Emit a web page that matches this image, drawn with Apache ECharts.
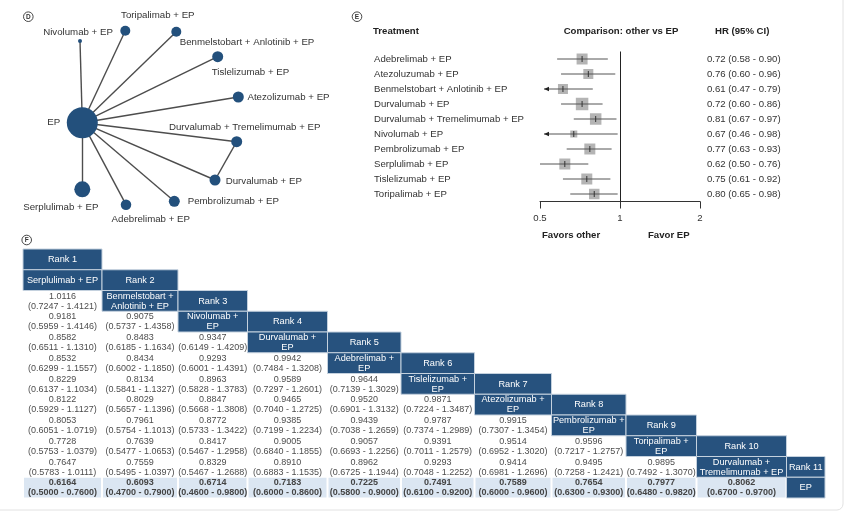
<!DOCTYPE html>
<html>
<head>
<meta charset="utf-8">
<script src="https://cdn.jsdelivr.net/npm/echarts@6/dist/echarts.min.js"></script>
<style>
html,body{margin:0;padding:0;background:#fff;}
#chart{width:845px;height:513px;}
</style>
</head>
<body>
<div id="chart"></div>
<script>
// ---------------- DATA ----------------
// (D) network: treatments and direct comparisons
const netNodes = ['EP', 'Nivolumab + EP', 'Toripalimab + EP', 'Benmelstobart + Anlotinib + EP', 'Tislelizumab + EP',
  'Atezolizumab + EP', 'Durvalumab + Tremelimumab + EP', 'Durvalumab + EP', 'Pembrolizumab + EP', 'Adebrelimab + EP', 'Serplulimab + EP'];
const netEdges = [
  ['EP', 'Nivolumab + EP'], ['EP', 'Toripalimab + EP'], ['EP', 'Benmelstobart + Anlotinib + EP'], ['EP', 'Tislelizumab + EP'],
  ['EP', 'Atezolizumab + EP'], ['EP', 'Durvalumab + Tremelimumab + EP'], ['EP', 'Durvalumab + EP'], ['EP', 'Pembrolizumab + EP'],
  ['EP', 'Adebrelimab + EP'], ['EP', 'Serplulimab + EP'], ['Durvalumab + EP', 'Durvalumab + Tremelimumab + EP']
];

// (E) forest plot: other vs EP
const forestTreatments = ['Adebrelimab + EP', 'Atezoluzumab + EP', 'Benmelstobart + Anlotinib + EP', 'Durvalumab + EP',
  'Durvalumab + Tremelimumab + EP', 'Nivolumab + EP', 'Pembrolizumab + EP', 'Serplulimab + EP', 'Tislelizumab + EP', 'Toripalimab + EP'];
const forestHR = [0.72, 0.76, 0.61, 0.72, 0.81, 0.67, 0.77, 0.62, 0.75, 0.80];
const forestLo = [0.58, 0.60, 0.47, 0.60, 0.67, 0.46, 0.63, 0.50, 0.61, 0.65];
const forestHi = [0.90, 0.96, 0.79, 0.86, 0.97, 0.98, 0.93, 0.76, 0.92, 0.98];
const forestWeight = [11, 10, 10, 12.5, 11.5, 7, 11, 11, 11, 10.5];
const forestTicks = [0.5, 1, 2];

// (F) league table (ranked)
const rankLabels = ['Rank 1', 'Rank 2', 'Rank 3', 'Rank 4', 'Rank 5', 'Rank 6', 'Rank 7', 'Rank 8', 'Rank 9', 'Rank 10', 'Rank 11'];
const leagueNames = ['Serplulimab + EP', 'Benmelstobart +\nAnlotinib + EP', 'Nivolumab +\nEP', 'Durvalumab +\nEP', 'Adebrelimab +\nEP',
  'Tislelizumab +\nEP', 'Atezolizumab +\nEP', 'Pembrolizumab +\nEP', 'Toripalimab +\nEP', 'Durvalumab +\nTremelimumab + EP', 'EP'];
// row k = comparisons of ranked treatments 0..k-1 against ranked treatment k (k = 1..10)
const leagueHR = [
  [1.0116],
  [0.9181, 0.9075],
  [0.8582, 0.8483, 0.9347],
  [0.8532, 0.8434, 0.9293, 0.9942],
  [0.8229, 0.8134, 0.8963, 0.9589, 0.9644],
  [0.8122, 0.8029, 0.8847, 0.9465, 0.9520, 0.9871],
  [0.8053, 0.7961, 0.8772, 0.9385, 0.9439, 0.9787, 0.9915],
  [0.7728, 0.7639, 0.8417, 0.9005, 0.9057, 0.9391, 0.9514, 0.9596],
  [0.7647, 0.7559, 0.8329, 0.8910, 0.8962, 0.9293, 0.9414, 0.9495, 0.9895],
  [0.6164, 0.6093, 0.6714, 0.7183, 0.7225, 0.7491, 0.7589, 0.7654, 0.7977, 0.8062]
];
const leagueLo = [
  [0.7247],
  [0.5959, 0.5737],
  [0.6511, 0.6185, 0.6149],
  [0.6299, 0.6002, 0.6001, 0.7484],
  [0.6137, 0.5841, 0.5828, 0.7297, 0.7139],
  [0.5929, 0.5657, 0.5668, 0.7040, 0.6901, 0.7224],
  [0.6051, 0.5754, 0.5733, 0.7199, 0.7038, 0.7374, 0.7307],
  [0.5753, 0.5477, 0.5467, 0.6840, 0.6693, 0.7011, 0.6952, 0.7217],
  [0.5783, 0.5495, 0.5467, 0.6883, 0.6725, 0.7048, 0.6981, 0.7258, 0.7492],
  [0.5000, 0.4700, 0.4600, 0.6000, 0.5800, 0.6100, 0.6000, 0.6300, 0.6480, 0.6700]
];
const leagueHi = [
  [1.4121],
  [1.4146, 1.4358],
  [1.1310, 1.1634, 1.4209],
  [1.1557, 1.1850, 1.4391, 1.3208],
  [1.1034, 1.1327, 1.3783, 1.2601, 1.3029],
  [1.1127, 1.1396, 1.3808, 1.2725, 1.3132, 1.3487],
  [1.0719, 1.1013, 1.3422, 1.2234, 1.2659, 1.2989, 1.3454],
  [1.0379, 1.0653, 1.2958, 1.1855, 1.2256, 1.2579, 1.3020, 1.2757],
  [1.0111, 1.0397, 1.2688, 1.1535, 1.1944, 1.2252, 1.2696, 1.2421, 1.3070],
  [0.7600, 0.7900, 0.9800, 0.8600, 0.9000, 0.9200, 0.9600, 0.9300, 0.9820, 0.9700]
];

// ---------------- LAYOUT (not data) ----------------
// network node placement (plot units of the hidden grid) and label centres
const netLayout = {
  'EP': {x: 82.3, y: 122.7, s: 31, lx: 53.7, ly: 122.7},
  'Nivolumab + EP': {x: 80, y: 41, s: 4, lx: 78, ly: 32.3},
  'Toripalimab + EP': {x: 125.3, y: 30.7, s: 10, lx: 157.8, ly: 15.7},
  'Benmelstobart + Anlotinib + EP': {x: 176.3, y: 31.7, s: 10, lx: 247, ly: 42.7},
  'Tislelizumab + EP': {x: 217.7, y: 56.7, s: 11, lx: 250.5, ly: 72.3},
  'Atezolizumab + EP': {x: 238.3, y: 97, s: 11, lx: 288.5, ly: 97},
  'Durvalumab + Tremelimumab + EP': {x: 236.7, y: 141.7, s: 11, lx: 244.7, ly: 127.3},
  'Durvalumab + EP': {x: 215, y: 180, s: 11, lx: 263.8, ly: 181},
  'Pembrolizumab + EP': {x: 174.3, y: 201.3, s: 11, lx: 233.3, ly: 201.3},
  'Adebrelimab + EP': {x: 126, y: 204.7, s: 10.5, lx: 150.8, ly: 219},
  'Serplulimab + EP': {x: 82.3, y: 189.3, s: 16, lx: 60.8, ly: 207.3}
};
const colWidths = [79, 76, 69.5, 80, 73.5, 73.5, 77, 74.5, 70.5, 90, 38.5];
const colEdges = [0];
colWidths.forEach(w => colEdges.push(colEdges[colEdges.length - 1] + w));
const tableWidth = colEdges[colEdges.length - 1];

const FONT = '"Liberation Sans", Arial, Helvetica, sans-serif';
const BLUE = '#27527e';

// ---------------- BUILD ----------------
const graphData = netNodes.map(n => {
  const L = netLayout[n];
  return {
    name: n, value: [L.x, L.y], symbolSize: L.s,
    label: {offset: [L.lx - L.x, L.ly - L.y]}
  };
});
const graphLinks = netEdges.map(e => ({source: e[0], target: e[1]}));

const fmt4 = v => v.toFixed(4);
const cells = [];
for (let j = 0; j < rankLabels.length; j++) {
  cells.push({col: j, row: j, kind: 'head', text: rankLabels[j]});
  cells.push({col: j, row: j + 1, kind: 'head', text: leagueNames[j]});
}
for (let k = 0; k < leagueHR.length; k++) {
  const isLast = k === leagueHR.length - 1;
  for (let j = 0; j < leagueHR[k].length; j++) {
    cells.push({
      col: j, row: k + 2, kind: isLast ? 'ref' : 'val',
      text: fmt4(leagueHR[k][j]) + '\n(' + fmt4(leagueLo[k][j]) + ' - ' + fmt4(leagueHi[k][j]) + ')'
    });
  }
}

function circled(letter, cx, cy) {
  return [
    {type: 'circle', shape: {cx: cx, cy: cy, r: 4.8}, style: {fill: 'none', stroke: '#333', lineWidth: 0.9}},
    {type: 'text', x: cx, y: cy + 0.3, style: {text: letter, fill: '#333', font: 'bold 6.5px ' + FONT, textAlign: 'center', textVerticalAlign: 'middle'}}
  ];
}
function txt(s, x, y, opts) {
  opts = opts || {};
  return {type: 'text', x: x, y: y, style: {
    text: s, fill: opts.fill || '#222', font: (opts.bold ? 'bold ' : '') + (opts.size || 9.6) + 'px ' + FONT,
    textAlign: opts.align || 'left', textVerticalAlign: 'middle'}};
}

const chart = echarts.init(document.getElementById('chart'), null, {renderer: 'canvas'});
chart.setOption({
  animation: false,
  backgroundColor: '#fff',
  grid: [
    {left: 0, top: 0, width: 360, height: 230},
    {left: 540, top: 51.5, width: 160, height: 150},
    {left: 23, top: 249, width: tableWidth, height: 12 * 20.75}
  ],
  xAxis: [
    {gridIndex: 0, type: 'value', min: 0, max: 360, show: false},
    {gridIndex: 1, type: 'log', logBase: 2, min: forestTicks[0], max: forestTicks[forestTicks.length - 1],
      axisLine: {show: true, lineStyle: {color: '#333', width: 1}},
      axisTick: {show: true, length: 7, lineStyle: {color: '#333'}},
      axisLabel: {color: '#333', fontSize: 9.6, fontFamily: FONT, margin: 12, formatter: v => String(+v.toFixed(2))},
      splitLine: {show: false}, minorTick: {show: false}},
    {gridIndex: 2, type: 'value', min: 0, max: tableWidth, show: false}
  ],
  yAxis: [
    {gridIndex: 0, type: 'value', min: 0, max: 230, inverse: true, show: false},
    {gridIndex: 1, type: 'category', data: forestTreatments, inverse: true,
      axisLine: {show: false}, axisTick: {show: false},
      axisLabel: {align: 'left', margin: 166, color: '#333', fontSize: 9.6, fontFamily: FONT}},
    {gridIndex: 1, type: 'category', position: 'right', inverse: true,
      data: forestHR.map((v, i) => v.toFixed(2) + ' (' + forestLo[i].toFixed(2) + ' - ' + forestHi[i].toFixed(2) + ')'),
      axisLine: {show: false}, axisTick: {show: false},
      axisLabel: {align: 'left', margin: 7, color: '#333', fontSize: 9.6, fontFamily: FONT}},
    {gridIndex: 2, type: 'value', min: 0, max: 12, inverse: true, show: false}
  ],
  graphic: {elements: [
    {type: 'rect', shape: {x: -6, y: -6, width: 849, height: 516, r: 6}, style: {fill: 'none', stroke: '#e2e2e2', lineWidth: 1}, silent: true},
    ...circled('D', 28.3, 16.7),
    ...circled('E', 357, 16.7),
    ...circled('F', 26.7, 240),
    txt('Treatment', 373, 31, {bold: true}),
    txt('Comparison: other vs EP', 621, 31, {bold: true, align: 'center'}),
    txt('HR (95% CI)', 715, 31, {bold: true}),
    txt('Favors other', 542, 235.5, {bold: true}),
    txt('Favor EP', 648, 235.5, {bold: true})
  ]},
  series: [
    {
      type: 'graph', coordinateSystem: 'cartesian2d', xAxisIndex: 0, yAxisIndex: 0,
      layout: 'none', roam: false, silent: true,
      data: graphData, links: graphLinks,
      itemStyle: {color: '#23507c'},
      lineStyle: {color: '#4d4d4d', width: 1.4, opacity: 1, curveness: 0},
      label: {show: true, position: 'inside', color: '#333', fontSize: 9.7, fontFamily: FONT},
      emphasis: {disabled: true}
    },
    {
      type: 'custom', xAxisIndex: 1, yAxisIndex: 1, silent: true,
      data: forestHR.map((v, i) => [v, i]),
      encode: {x: 0, y: 1},
      renderItem: function (params, api) {
        const i = params.dataIndex;
        const p = api.coord([forestHR[i], i]);
        const y = p[1], xc = p[0];
        const xMin = api.coord([forestTicks[0], i])[0];
        const clipped = forestLo[i] < forestTicks[0];
        const xLo = clipped ? xMin + 4 : api.coord([forestLo[i], i])[0];
        const xHi = api.coord([forestHi[i], i])[0];
        const s = forestWeight[i];
        const ch = [
          {type: 'rect', shape: {x: xc - s / 2, y: y - s / 2, width: s, height: s}, style: {fill: '#b4b4b4'}},
          {type: 'line', shape: {x1: xLo, y1: y, x2: xHi, y2: y}, style: {stroke: '#555', lineWidth: 1}},
          {type: 'line', shape: {x1: xc, y1: y - 3, x2: xc, y2: y + 3}, style: {stroke: '#333', lineWidth: 1}}
        ];
        if (clipped) {
          ch.push({type: 'polygon', shape: {points: [[xLo, y], [xLo + 5, y - 2.2], [xLo + 5, y + 2.2]]}, style: {fill: '#222'}});
        }
        return {type: 'group', children: ch};
      },
      markLine: {
        silent: true, symbol: 'none', label: {show: false},
        lineStyle: {color: '#222', width: 1, type: 'solid'},
        data: [{xAxis: 1}]
      }
    },
    {
      type: 'custom', xAxisIndex: 2, yAxisIndex: 3, silent: true,
      data: cells.map(c => [colEdges[c.col], c.row]),
      encode: {x: 0, y: 1},
      renderItem: function (params, api) {
        const c = cells[params.dataIndex];
        const p0 = api.coord([colEdges[c.col], c.row]);
        const p1 = api.coord([colEdges[c.col + 1], c.row + 1]);
        const w = p1[0] - p0[0], h = p1[1] - p0[1];
        const ch = [];
        let fill = '#4d4d4d', weight = 'normal', size = 9;
        if (c.kind === 'head') {
          ch.push({type: 'rect', shape: {x: p0[0], y: p0[1], width: w, height: h},
            style: {fill: BLUE, stroke: '#c4d1de', lineWidth: 1}});
          fill = '#fff'; size = 9.2;
        } else if (c.kind === 'ref') {
          ch.push({type: 'rect', shape: {x: p0[0] + 1, y: p0[1] + 0.5, width: w - 2, height: h - 1},
            style: {fill: '#dbe6f2'}});
          weight = 'bold'; fill = '#444';
        }
        ch.push({type: 'text', x: p0[0] + w / 2, y: p0[1] + h / 2 + 0.3, style: {
          text: c.text, fill: fill, fontSize: size, fontWeight: weight, fontFamily: FONT,
          lineHeight: 10, textAlign: 'center', textVerticalAlign: 'middle'}});
        return {type: 'group', children: ch};
      }
    }
  ]
});
</script>
</body>
</html>
